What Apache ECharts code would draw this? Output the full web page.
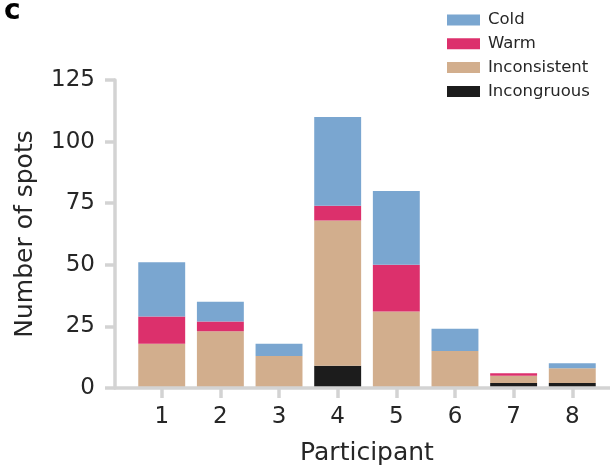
<!DOCTYPE html>
<html>
<head>
<meta charset="utf-8">
<script src="https://cdn.jsdelivr.net/npm/echarts@6/dist/echarts.min.js"></script>
<style>
html,body{margin:0;padding:0;background:#fff;}
#chart{width:610px;height:466px;}
</style>
</head>
<body>
<div id="chart"></div>
<script>
const participants = ['1','2','3','4','5','6','7','8'];
const incongruous  = [0, 0, 0, 9, 0, 0, 2, 2];
const inconsistent = [18, 23, 13, 59, 31, 15, 3, 6];
const warm         = [11, 4, 0, 6, 19, 0, 1, 0];
const cold         = [22, 8, 5, 36, 30, 9, 0, 2];
const yTicks = [0, 25, 50, 75, 100, 125];
const legendOrder = ['Cold', 'Warm', 'Inconsistent', 'Incongruous'];

const colors = {
  Cold: '#7aa6d0',
  Warm: '#dc306c',
  Inconsistent: '#d2ae8d',
  Incongruous: '#1c1c1c'
};
const FONT = 'DejaVu Sans';
const TXT = '#262626';
const SPINE = '#d3d3d3';

const chart = echarts.init(document.getElementById('chart'), null, {renderer: 'canvas'});

function barSeries(name, values) {
  return {
    name: name,
    type: 'bar',
    stack: 'total',
    xAxisIndex: 0,
    yAxisIndex: 0,
    barWidth: '80%',
    itemStyle: {color: colors[name]},
    emphasis: {disabled: true},
    data: values
  };
}

chart.setOption({
  animation: false,
  backgroundColor: '#ffffff',
  textStyle: {fontFamily: FONT},
  graphic: [{
    type: 'text',
    style: {
      text: 'c', x: 4, y: 12, font: 'bold 28px "DejaVu Sans"',
      fill: '#000', textVerticalAlign: 'middle', verticalAlign: 'middle'
    }
  }],
  legend: {
    data: legendOrder,
    orient: 'vertical',
    left: 442,
    top: 6.5,
    icon: 'rect',
    itemWidth: 33,
    itemHeight: 11,
    itemGap: 6.8,
    selectedMode: false,
    textStyle: {fontFamily: FONT, fontSize: 16.5, color: TXT, padding: [0, 0, 0, 3]}
  },
  grid: [
    {left: 132.4, right: 8.4, top: 80, bottom: 78, outerBoundsMode: 'none', containLabel: false},
    {left: 115, right: -8, top: 80, bottom: 78, outerBoundsMode: 'none', containLabel: false}
  ],
  xAxis: [
    {
      type: 'category',
      gridIndex: 0,
      data: participants,
      axisLine: {show: false},
      axisTick: {show: true, alignWithLabel: true, length: 10, lineStyle: {color: SPINE, width: 3.5}},
      axisLabel: {fontFamily: FONT, fontSize: 23, color: TXT, margin: 18},
      splitLine: {show: false},
      name: 'Participant',
      nameLocation: 'middle',
      nameGap: 53,
      nameTextStyle: {fontFamily: FONT, fontSize: 25, color: TXT}
    },
    {
      type: 'value',
      gridIndex: 1,
      min: 0.21,
      max: 8.79,
      z: 5,
      axisLine: {show: true, lineStyle: {color: SPINE, width: 3.5}},
      axisTick: {show: false},
      axisLabel: {show: false},
      splitLine: {show: false}
    }
  ],
  yAxis: [
    {
      type: 'value',
      gridIndex: 0,
      min: yTicks[0],
      max: yTicks[yTicks.length - 1],
      interval: 25,
      show: false,
      splitLine: {show: false}
    },
    {
      type: 'value',
      gridIndex: 1,
      min: yTicks[0],
      max: yTicks[yTicks.length - 1],
      interval: 25,
      z: 5,
      axisLine: {show: true, lineStyle: {color: SPINE, width: 3.5}},
      axisTick: {show: true, length: 10, lineStyle: {color: SPINE, width: 3.5}},
      axisLabel: {fontFamily: FONT, fontSize: 23, color: TXT, margin: 20},
      splitLine: {show: false},
      name: 'Number of spots',
      nameLocation: 'middle',
      nameGap: 77,
      nameTextStyle: {fontFamily: FONT, fontSize: 25, color: TXT}
    }
  ],
  series: [
    barSeries('Incongruous', incongruous),
    barSeries('Inconsistent', inconsistent),
    barSeries('Warm', warm),
    barSeries('Cold', cold)
  ]
});
</script>
</body>
</html>
